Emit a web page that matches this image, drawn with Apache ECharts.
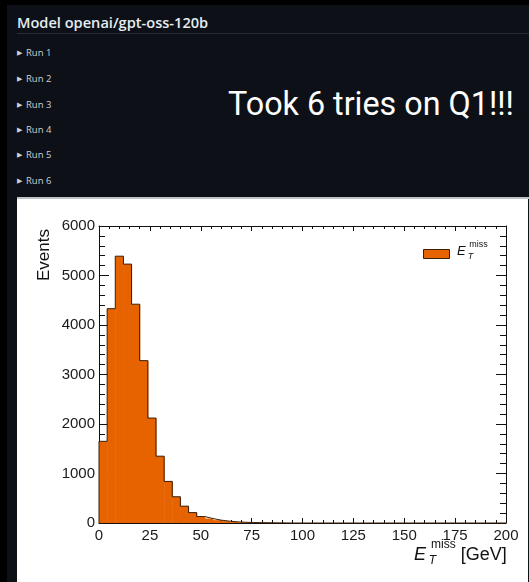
<!DOCTYPE html>
<html>
<head>
<meta charset="utf-8">
<script src="https://cdn.jsdelivr.net/npm/echarts@6/dist/echarts.min.js"></script>
<style>
  html, body { margin: 0; padding: 0; background: #000; width: 529px; height: 582px; overflow: hidden; }
  #panel { position: absolute; left: 7px; top: 5px; width: 522px; height: 577px; background: #0d1117; }
  .abs { position: absolute; white-space: nowrap; }
  #heading { left: 17px; top: 12px; font: 600 14.6px 'Open Sans', sans-serif; color: #e6edf3; }
  #sep { left: 17px; top: 33px; width: 512px; height: 1px; background: #262c35; }
  .run { left: 17px; font: 9.5px 'Open Sans', sans-serif; color: #c9d1d9; }
  .run span { font-size: 7px; margin-right: 4px; position: relative; top: -1px; }
  #took { left: 228px; top: 85px; font: 32.3px Roboto, sans-serif; color: #fff; }
  #bottomline { left: 17px; top: 197px; width: 512px; height: 2px; background: #bfc3c8; }
  #chart { position: absolute; left: 17px; top: 199px; width: 511px; height: 383px; background: #fff; }
</style>
</head>
<body>
<div id="panel"></div>
<div id="heading" class="abs">Model openai/gpt-oss-120b</div>
<div id="sep" class="abs"></div>
<div id="runs"></div>
<div id="took" class="abs">Took 6 tries on Q1!!!</div>
<div id="bottomline" class="abs"></div>
<div id="chart"></div>
<script>
// run list
const runNames = ['Run 1', 'Run 2', 'Run 3', 'Run 4', 'Run 5', 'Run 6'];
const runTops = [46, 72, 98, 123, 148, 174];

// histogram: 4 GeV bins, 0..200
const binWidth = 4;
const binCounts = [
  1650, 4330, 5390, 5230, 4420, 3280, 2120, 1350, 840, 530,
  340, 210, 130, 90, 58, 38, 24, 15, 10, 7,
  5, 3, 2, 0, 0, 0, 0, 0, 0, 0,
  0, 0, 0, 0, 0, 0, 0, 0, 0, 0,
  0, 0, 0, 0, 0, 0, 0, 0, 0, 0
];
const xTicks = [0, 25, 50, 75, 100, 125, 150, 175, 200];
const yTicks = [0, 1000, 2000, 3000, 4000, 5000, 6000];

const runsEl = document.getElementById('runs');
runNames.forEach((name, i) => {
  const d = document.createElement('div');
  d.className = 'abs run';
  d.style.top = runTops[i] + 'px';
  d.innerHTML = '<span>&#9654;</span>' + name;
  runsEl.appendChild(d);
});

const fill = '#e76300';
const edge = '#3a1e05';
const ink = '#111';
const font = "'Liberation Sans', Arial, sans-serif";

const bins = binCounts.map((c, i) => [i * binWidth, (i + 1) * binWidth, c]);
// outline as a step line over the bin edges
const outline = [[0, 0]].concat(binCounts.map((c, i) => [i * binWidth, c]));
outline.push([binCounts.length * binWidth, binCounts[binCounts.length - 1]]);

// E_T^miss label built from pieces (sub + superscript stacked)
function metLabel(x, y, s, unit) {
  const kids = [
    { type: 'text', x: x, y: y, style: { text: 'E', font: `italic ${s}px ${font}`, fill: ink, verticalAlign: 'top' } },
    { type: 'text', x: x + s * 0.95, y: y - s * 0.38, style: { text: 'miss', font: `${Math.round(s * 0.66)}px ${font}`, fill: ink, verticalAlign: 'top' } },
    { type: 'text', x: x + s * 0.82, y: y + s * 0.5, style: { text: 'T', font: `italic ${Math.round(s * 0.66)}px ${font}`, fill: ink, verticalAlign: 'top' } }
  ];
  if (unit) {
    kids.push({ type: 'text', x: x + s * 2.6, y: y, style: { text: unit, font: `${s}px ${font}`, fill: ink, verticalAlign: 'top' } });
  }
  return { type: 'group', children: kids };
}

// one axis per side, ticks pointing into the frame
function frameAxis(pos, min, max, interval, tickLen, minorLen, labels) {
  return {
    type: 'value', min: min, max: max, interval: interval, position: pos,
    axisLine: { show: true, onZero: false, lineStyle: { color: ink, width: 1 } },
    axisTick: { show: true, inside: true, length: tickLen, lineStyle: { color: ink } },
    minorTick: { show: true, splitNumber: 5, length: minorLen, lineStyle: { color: ink } },
    splitLine: { show: false },
    axisLabel: labels ? Object.assign({ fontSize: 15, fontFamily: font, color: '#1a1a1a', formatter: v => String(v) }, labels) : { show: false }
  };
}

const chart = echarts.init(document.getElementById('chart'));

const option = {
  animation: false,
  backgroundColor: '#fff',
  grid: { left: 82, right: 22, top: 27, bottom: 59 },
  xAxis: [
    frameAxis('bottom', xTicks[0], xTicks[xTicks.length - 1], 25, 5, 3, { margin: 5 }),
    frameAxis('top', xTicks[0], xTicks[xTicks.length - 1], 25, 5, 3, null)
  ],
  yAxis: [
    frameAxis('left', yTicks[0], yTicks[yTicks.length - 1], 1000, 10, 6, { margin: 4 }),
    frameAxis('right', yTicks[0], yTicks[yTicks.length - 1], 1000, 10, 6, null)
  ],
  legend: {
    left: 401, top: 45, itemWidth: 26, itemHeight: 9, selectedMode: false,
    data: [{ name: 'met', icon: 'rect', itemStyle: { color: fill, borderColor: edge, borderWidth: 1 } }],
    formatter: () => '',
    textStyle: { fontSize: 1 }
  },
  series: [
    {
      name: 'met',
      type: 'custom',
      xAxisIndex: 0, yAxisIndex: 0,
      itemStyle: { color: fill },
      data: bins,
      encode: { x: [0, 1], y: 2 },
      renderItem: (params, api) => {
        const p0 = api.coord([api.value(0), api.value(2)]);
        const p1 = api.coord([api.value(1), 0]);
        return {
          type: 'rect',
          shape: { x: p0[0], y: p0[1], width: p1[0] - p0[0] + 0.5, height: p1[1] - p0[1] },
          style: { fill: fill }
        };
      },
      z: 2
    },
    {
      name: 'outline',
      type: 'line',
      step: 'end',
      data: outline,
      symbol: 'none',
      lineStyle: { color: edge, width: 1 },
      z: 3
    }
  ],
  graphic: [
    { type: 'text', x: 27, y: 30, rotation: Math.PI / 2,
      style: { text: 'Events', font: `17px ${font}`, fill: ink, align: 'right', verticalAlign: 'middle' } },
    metLabel(397, 347, 18, '[GeV]'),
    metLabel(440, 46, 13, null)
  ]
};

chart.setOption(option);
</script>
</body>
</html>
